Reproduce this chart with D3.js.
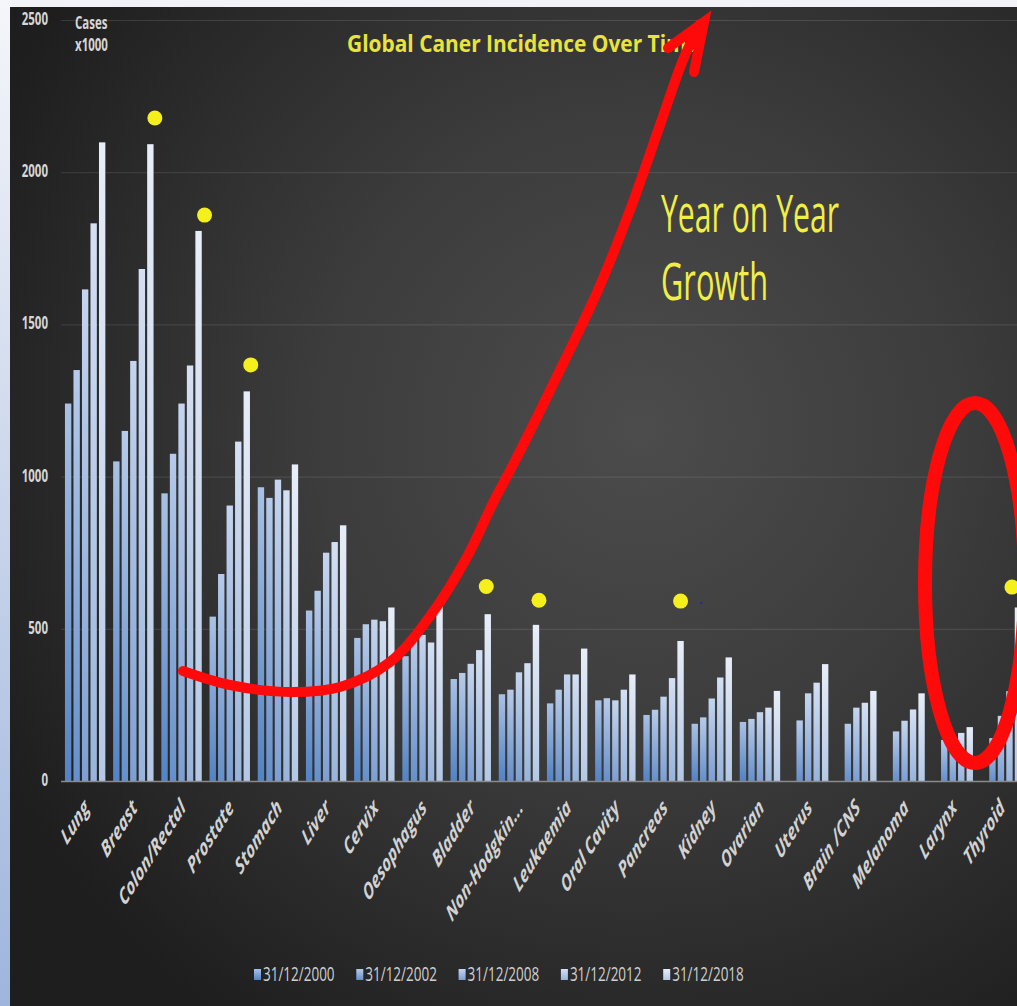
<!DOCTYPE html>
<html><head><meta charset="utf-8">
<script src="https://cdn.jsdelivr.net/npm/d3@7"></script>
<style>html,body{margin:0;padding:0;background:#fff;overflow:hidden}</style>
</head><body><svg id="c" width="1017" height="1006"></svg>
<script>
// ---------- data ----------
const categories = ["Lung","Breast","Colon/Rectal","Prostate","Stomach","Liver","Cervix","Oesophagus","Bladder","Non-Hodgkin...","Leukaemia","Oral Cavity","Pancreas","Kidney","Ovarian","Uterus","Brain /CNS","Melanoma","Larynx","Thyroid"];
const seriesNames = ["31/12/2000","31/12/2002","31/12/2008","31/12/2012","31/12/2018"];
const cases2000 = [1240,1050,945,540,965,560,470,410,335,285,255,265,217,188,194,null,null,null,null,null];
const cases2002 = [1350,1150,1075,680,930,625,515,460,355,300,300,272,234,209,204,199,188,163,135,141];
const cases2008 = [1615,1380,1240,905,990,750,530,480,385,357,350,265,277,271,226,288,241,198,151,214];
const cases2012 = [1832,1682,1365,1115,955,785,525,455,430,387,350,300,338,340,241,323,257,235,158,295];
const cases2018 = [2098,2092,1807,1280,1040,840,570,575,548,513,435,350,460,406,296,384,296,288,177,570];
const seriesValues = [cases2000,cases2002,cases2008,cases2012,cases2018];
const yTicks = [0,500,1000,1500,2000,2500];
const highlightCats = ["Breast","Colon/Rectal","Prostate","Bladder","Non-Hodgkin...","Pancreas","Thyroid"];
const highlightVals = [2178,1859,1367,639,594,591,637];
const highlightNudge = [4.5,6,4,-1.5,3,0,-6];
const titleText = "Global  Caner  Incidence  Over  Time";
const unitLines = ["Cases","x1000"];
const noteLines = ["Year on Year","Growth"];

// ---------- style ----------
const barBottom = ["#5283c4","#6590cb","#7c9fd3","#97b4dc","#b3c8e6"];
const barTop    = ["#a9c1e5","#b6cbea","#c5d5ef","#d4e0f4","#e8eef9"];
const S = 1.5; // vertical stretch of the source image

const W = 1017, H = 1006;
const svg = d3.select("#c");
const defs = svg.append("defs");

// outer frame: light top strip and light-blue left strip
const lg = defs.append("linearGradient").attr("id","leftStrip").attr("x1",0).attr("y1",0).attr("x2",0).attr("y2",1);
lg.append("stop").attr("offset",0).attr("stop-color","#f4f6fa");
lg.append("stop").attr("offset",1).attr("stop-color","#9fb5dc");
svg.append("rect").attr("x",0).attr("y",0).attr("width",W).attr("height",H).attr("fill","#f2f3f6");
svg.append("rect").attr("x",0).attr("y",0).attr("width",12).attr("height",H).attr("fill","url(#leftStrip)");

// dark panel with radial lighting
const rg = defs.append("radialGradient").attr("id","panelBg")
  .attr("gradientUnits","userSpaceOnUse").attr("cx",640).attr("cy",430).attr("r",720);
rg.append("stop").attr("offset",0).attr("stop-color","#4c4c4c");
rg.append("stop").attr("offset",0.45).attr("stop-color","#3c3c3c");
rg.append("stop").attr("offset",1).attr("stop-color","#1e1e1e");
svg.append("rect").attr("x",10).attr("y",7).attr("width",W-10).attr("height",H-7).attr("fill","url(#panelBg)");

// bar gradients
seriesNames.forEach((s,i)=>{
  const g = defs.append("linearGradient").attr("id","bar"+i).attr("x1",0).attr("y1",1).attr("x2",0).attr("y2",0);
  g.append("stop").attr("offset",0).attr("stop-color",barBottom[i]);
  g.append("stop").attr("offset",1).attr("stop-color",barTop[i]);
});

// ---------- scales ----------
const y = d3.scaleLinear().domain([0,2500]).range([781,20]);
const x0 = d3.scaleBand().domain(categories).range([61,1025]).padding(0);
const x1 = d3.scaleBand().domain(seriesNames).range([3.95,44.35]).paddingInner(0.25).paddingOuter(0);

// gridlines
const grid = svg.append("g").attr("transform","translate(61,0)")
  .call(d3.axisLeft(y).tickValues(yTicks).tickSize(-(W-61)).tickFormat(""));
grid.select(".domain").remove();
grid.selectAll(".tick line").attr("stroke","rgba(255,255,255,0.12)").attr("stroke-width",1);

// y tick labels
svg.append("g").selectAll("text").data(yTicks).join("text")
  .attr("transform",d=>`translate(48,${y(d)+5}) scale(1,${S})`)
  .attr("text-anchor","end").attr("font-family","Open Sans").attr("font-weight","bold")
  .attr("font-size",11.5).attr("fill","#d6d6d6").text(d=>d);

// unit label
svg.append("g").selectAll("text").data(unitLines).join("text")
  .attr("transform",(d,i)=>`translate(75,${29+i*22}) scale(1,${S})`)
  .attr("font-family","Open Sans").attr("font-weight","bold").attr("font-size",11.5)
  .attr("fill","#d6d6d6").text(d=>d);

// bars
const groups = svg.append("g").selectAll("g").data(seriesNames).join("g")
  .attr("fill",(d,i)=>`url(#bar${i})`);
groups.selectAll("rect")
  .data((s,i)=>categories.map((c,j)=>({c, s, v: seriesValues[i][j]})).filter(d=>d.v!=null))
  .join("rect")
  .attr("x",d=>x0(d.c)+x1(d.s))
  .attr("width",x1.bandwidth())
  .attr("y",d=>y(d.v))
  .attr("height",d=>y(0)-y(d.v));

// baseline
svg.append("line").attr("x1",61).attr("x2",W).attr("y1",y(0)+0.5).attr("y2",y(0)+0.5)
  .attr("stroke","#8a8a8a").attr("stroke-width",1.5);

// category labels
svg.append("g").selectAll("text").data(categories).join("text")
  .attr("transform",d=>`translate(${x0(d)+x0.bandwidth()/2+5},809) scale(1,1.58) rotate(-45)`)
  .attr("text-anchor","end").attr("font-family","Open Sans").attr("font-weight","bold")
  .attr("font-style","italic").attr("font-size",14.5).attr("fill","#d2d2d2").text(d=>d);

// legend
const legend = svg.append("g").selectAll("g").data(seriesNames).join("g")
  .attr("transform",(d,i)=>`translate(${254+i*102.3},969)`);
legend.append("rect").attr("width",7).attr("height",11).attr("fill",(d,i)=>`url(#bar${i})`);
legend.append("text").attr("transform",`translate(9,12) scale(1,${S})`)
  .attr("font-family","Open Sans").attr("font-size",13.5).attr("fill","#cfcfcf").text(d=>d);

// title
svg.append("text").attr("transform",`translate(347,52) scale(1,${S})`)
  .attr("font-family","Open Sans").attr("font-weight","bold").attr("font-size",16)
  .attr("textLength",352).attr("lengthAdjust","spacingAndGlyphs")
  .attr("fill","#e8e43c").text(titleText);

// yellow highlight dots
svg.append("g").selectAll("circle").data(highlightCats).join("circle")
  .attr("cx",(d,i)=>x0(d)+x1(seriesNames[4])+x1.bandwidth()/2+highlightNudge[i])
  .attr("cy",(d,i)=>y(highlightVals[i]))
  .attr("r",7.5).attr("fill","#f5f01c");
svg.append("circle").attr("cx",x0("Pancreas")+x1(seriesNames[4])+24).attr("cy",y(585)).attr("r",1.3).attr("fill","#2a2aa0");

// red growth arrow (hand drawn annotation)
const arrowPts = [[183,671],[230,685],[290,692],[340,687],[390,662],[433,612],[467,557],[493,503],[517,457],[560,370],[598,290],[630,210],[660,125],[683,60],[700,24]];
svg.append("path").attr("d",d3.line().curve(d3.curveCatmullRom)(arrowPts))
  .attr("fill","none").attr("stroke","#ff0a0a").attr("stroke-width",10).attr("stroke-linecap","round");
svg.append("path").attr("d",d3.line()([[668,48],[704,22],[694,72]]))
  .attr("fill","none").attr("stroke","#ff0a0a").attr("stroke-width",10)
  .attr("stroke-linecap","round").attr("stroke-linejoin","miter");

// red ellipse
svg.append("ellipse").attr("cx",975).attr("cy",583).attr("rx",50).attr("ry",180)
  .attr("fill","none").attr("stroke","#ff0a0a").attr("stroke-width",14);

// note text
svg.append("g").selectAll("text").data(noteLines).join("text")
  .attr("transform",(d,i)=>`translate(661,${232+i*68}) scale(1,${S})`)
  .attr("font-family","Open Sans").attr("font-weight",500).attr("font-size",34)
  .attr("textLength",(d,i)=>i===0?178:107).attr("lengthAdjust","spacingAndGlyphs")
  .attr("fill","#f1ee45").text(d=>d);
</script></body></html>
